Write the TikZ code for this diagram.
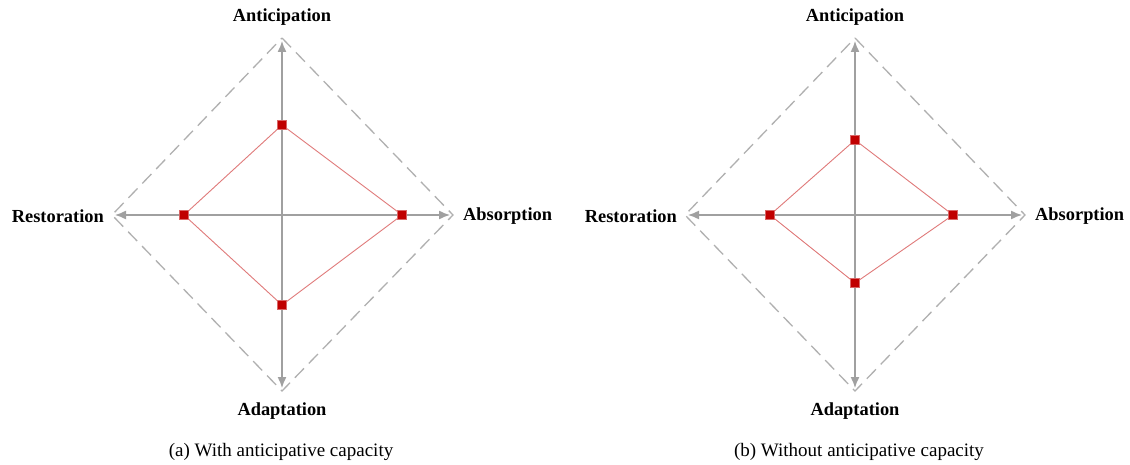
\documentclass[tikz,border=0pt]{standalone}
\usepackage{fontspec}
\setmainfont{Liberation Serif}
\usetikzlibrary{arrows.meta}
\definecolor{axisgray}{HTML}{A0A0A0}
\definecolor{dashgray}{HTML}{B0B0B0}
\definecolor{ptred}{HTML}{C00000}
\definecolor{linered}{HTML}{E07A7A}
\tikzset{
  axisline/.style={draw=axisgray, line width=1.4pt, -{Latex[length=11pt,width=9pt]}},
  outline/.style={draw=dashgray, line width=1.3pt, dash pattern=on 13pt off 7pt},
  poly/.style={draw=linered, line width=0.9pt},
  pt/.style={rectangle, fill=ptred, draw=ptred!60, line width=0.4pt, minimum size=9pt, inner sep=0pt},
  axlabel/.style={font=\fontsize{18.4}{20}\selectfont\bfseries, inner sep=0pt},
  caption/.style={font=\fontsize{19}{21}\selectfont, inner sep=0pt},
}
\begin{document}
\begin{tikzpicture}[x=1pt,y=-1pt]
\useasboundingbox (0,0) rectangle (1130,465);
\fill[white] (0,0) rectangle (1130,465);
% ---------- diagram (a)
\coordinate (ca) at (282,215);
\coordinate (ta) at (282,41);
\coordinate (ba) at (282,388);
\coordinate (la) at (115,215);
\coordinate (ra) at (450,215);
\coordinate (dta) at (282,38);
\coordinate (dba) at (282,391);
\coordinate (dla) at (112,215);
\coordinate (dra) at (453,215);
\draw[outline] (dta) -- (dra) -- (dba) -- (dla) -- cycle;
\draw[axisline] (ca) -- (ta);
\draw[axisline] (ca) -- (ba);
\draw[axisline] (ca) -- (la);
\draw[axisline] (ca) -- (ra);
\node[pt] (pta) at (282,125) {};
\node[pt] (pra) at (402,215) {};
\node[pt] (pba) at (282,305) {};
\node[pt] (pla) at (184,215) {};
\draw[poly] (pta.center) -- (pra.center) -- (pba.center) -- (pla.center) -- cycle;
\node[pt] at (pta) {};
\node[pt] at (pra) {};
\node[pt] at (pba) {};
\node[pt] at (pla) {};
\node[axlabel] (anta) at (282,17) {Anticipation};
\node[axlabel] (adaa) at (282,411) {Adaptation};
\node[axlabel, anchor=east] (resa) at (104,216) {Restoration};
\node[axlabel, anchor=west] (absa) at (463,216) {Absorption};
\node[caption] (capa) at (281,452) {(a) With anticipative capacity};
% ---------- diagram (b)
\coordinate (cb) at (855,215);
\coordinate (tb) at (855,41);
\coordinate (bb) at (855,388);
\coordinate (lb) at (688,215);
\coordinate (rb) at (1022,215);
\coordinate (dtb) at (855,38);
\coordinate (dbb) at (855,391);
\coordinate (dlb) at (685,215);
\coordinate (drb) at (1025,215);
\draw[outline] (dtb) -- (drb) -- (dbb) -- (dlb) -- cycle;
\draw[axisline] (cb) -- (tb);
\draw[axisline] (cb) -- (bb);
\draw[axisline] (cb) -- (lb);
\draw[axisline] (cb) -- (rb);
\node[pt] (ptb) at (855,140) {};
\node[pt] (prb) at (953,215) {};
\node[pt] (pbb) at (855,283) {};
\node[pt] (plb) at (770,215) {};
\draw[poly] (ptb.center) -- (prb.center) -- (pbb.center) -- (plb.center) -- cycle;
\node[pt] at (ptb) {};
\node[pt] at (prb) {};
\node[pt] at (pbb) {};
\node[pt] at (plb) {};
\node[axlabel] (antb) at (855,17) {Anticipation};
\node[axlabel] (adab) at (855,411) {Adaptation};
\node[axlabel, anchor=east] (resb) at (677,216) {Restoration};
\node[axlabel, anchor=west] (absb) at (1035,216) {Absorption};
\node[caption] (capb) at (859,452) {(b) Without anticipative capacity};
\end{tikzpicture}
\end{document}
